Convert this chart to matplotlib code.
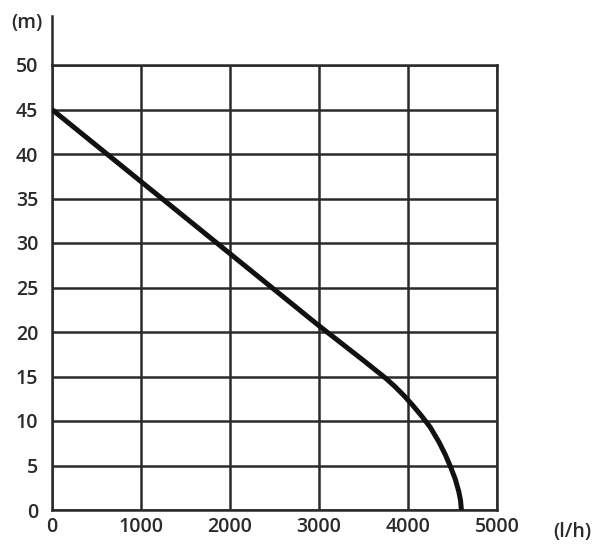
import matplotlib.pyplot as plt

# pump curve
flow = [0, 1000, 2000, 3000, 3500, 3650, 3750, 3850, 3950, 4050, 4150, 4250,
        4350, 4420, 4480, 4530, 4570, 4590, 4600]
head = [45, 36.9, 28.8, 20.7, 16.8, 15.6, 14.8, 13.9, 12.9, 11.8, 10.6, 9.3,
        7.6, 6.2, 4.8, 3.5, 2.1, 1.1, 0]
x_ticks = [0, 1000, 2000, 3000, 4000, 5000]
y_ticks = [0, 5, 10, 15, 20, 25, 30, 35, 40, 45, 50]

plt.rcParams['font.family'] = ['Open Sans', 'DejaVu Sans']
plt.rcParams['font.weight'] = 'semibold'

fig = plt.figure(figsize=(5.92, 5.45), dpi=100)
ax = fig.add_axes([52/592, 35/545, 445/592, 445/545])

grid_col = '#2a2a2a'
txt_col = '#2a2a2a'
ax.set_xlim(0, 5000)
ax.set_ylim(0, 50)
ax.set_xticks(x_ticks)
ax.set_yticks(y_ticks)
ax.grid(True, color=grid_col, linewidth=1.8)
ax.set_axisbelow(True)
for s in ax.spines.values():
    s.set_color(grid_col)
    s.set_linewidth(1.8)
ax.tick_params(length=0, labelsize=14, labelcolor=txt_col)
ax.tick_params(axis='y', pad=10)
ax.tick_params(axis='x', pad=5)

# left axis continues above the grid up to the unit label
ax.plot([0, 0], [50, 55.5], color=grid_col, linewidth=1.8, clip_on=False)

ax.plot(flow, head, color='#111111', linewidth=3.6, solid_capstyle='butt',
        solid_joinstyle='round', zorder=3)

fig.text(27/592, 1 - 23/545, '(m)', ha='center', va='center', fontsize=14, color=txt_col)
fig.text(572/592, 1 - 532/545, '(l/h)', ha='center', va='center', fontsize=14, color=txt_col)

fig.savefig('out.png', dpi=100)
